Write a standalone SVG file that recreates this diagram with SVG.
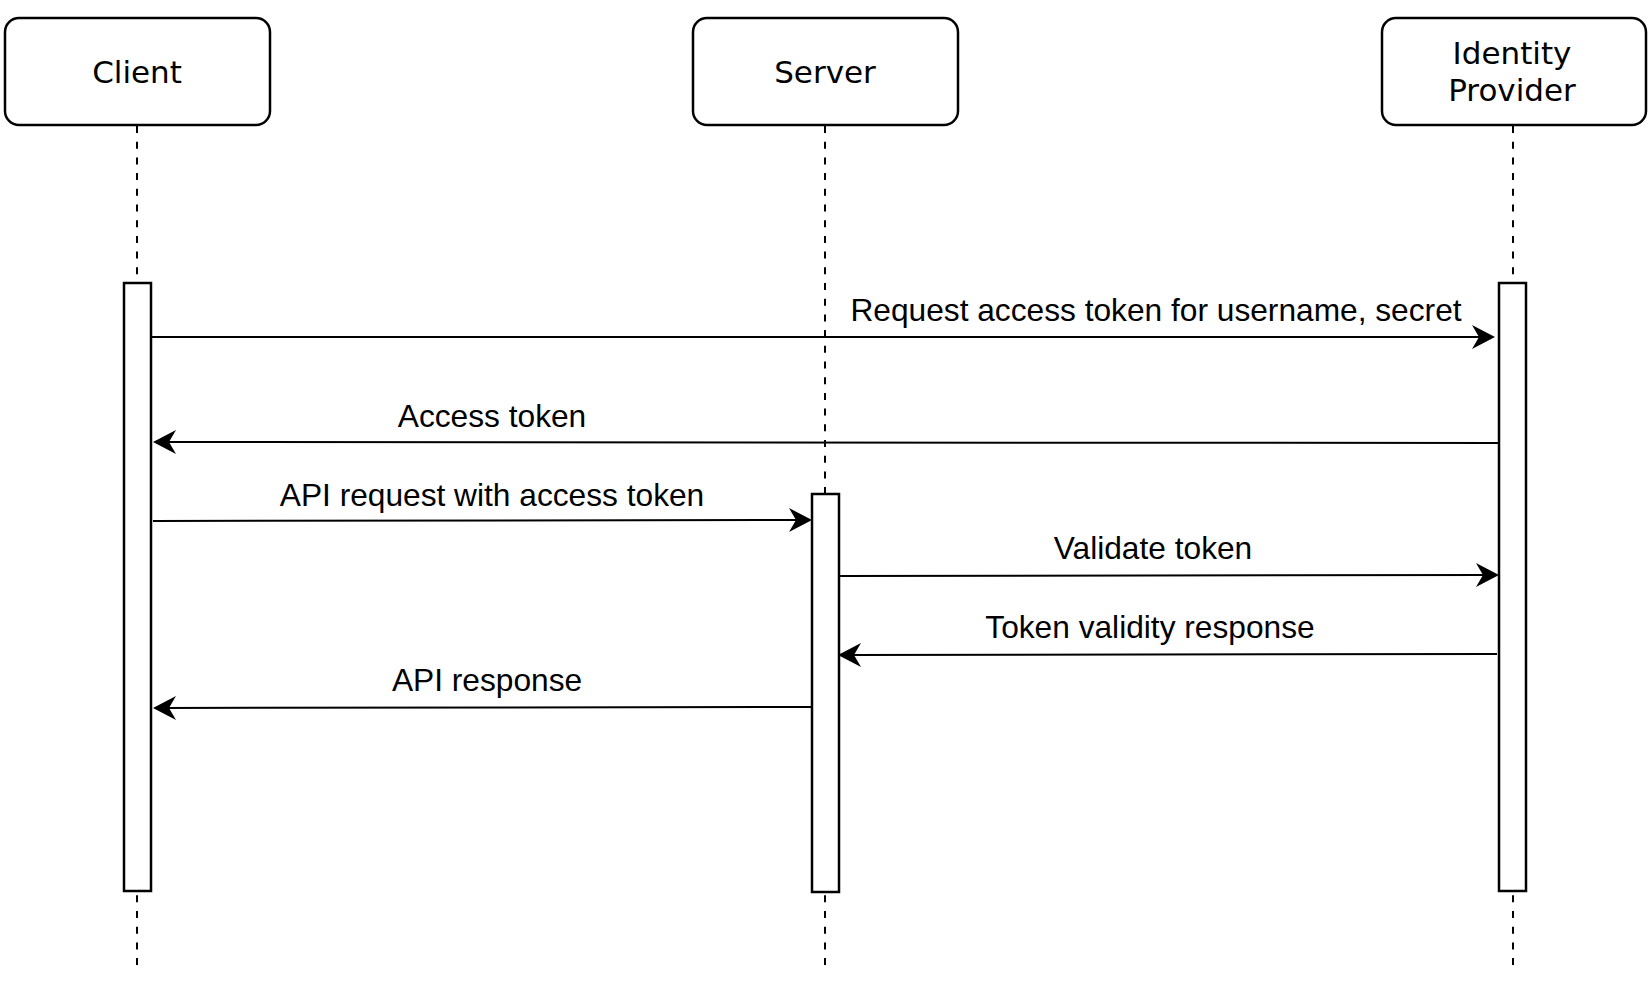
<svg xmlns="http://www.w3.org/2000/svg" width="1650" height="989" viewBox="0 0 1650 989">
<style>
.box{fill:#fff;stroke:#000;stroke-width:2.5}
.bar{fill:#fff;stroke:#000;stroke-width:2.5}
.life{stroke:#000;stroke-width:2;stroke-dasharray:7 8.7;fill:none}
.msg{stroke:#000;stroke-width:2;fill:none;marker-end:url(#ah)}
.title{font-family:"DejaVu Sans",sans-serif;font-size:31px;fill:#000;text-anchor:middle}
.lbl{font-family:"Liberation Sans",Arial,sans-serif;font-size:31.7px;fill:#000;text-anchor:middle}
</style>
<defs>
<marker id="ah" viewBox="-24 -13 26 26" refX="-10" refY="0" markerWidth="26" markerHeight="26" markerUnits="userSpaceOnUse" orient="auto">
<path d="M0,0 L-23,-12 L-16,0 L-23,12 Z" fill="#000"/>
</marker>
</defs>
<rect width="1650" height="989" fill="#fff"/>
<g id="lifelines">
<line class="life" x1="137" y1="126" x2="137" y2="972"/>
<line class="life" x1="825" y1="126" x2="825" y2="972"/>
<line class="life" x1="1513" y1="126" x2="1513" y2="972"/>
</g>
<g id="client">
<rect class="box" x="5" y="18" width="265" height="107" rx="14"/>
<text class="title" x="137" y="83">Client</text>
</g>
<g id="server">
<rect class="box" x="693" y="18" width="265" height="107" rx="14"/>
<text class="title" x="825" y="83">Server</text>
</g>
<g id="identity-provider">
<rect class="box" x="1382" y="18" width="264" height="107" rx="14"/>
<text class="title" x="1512" y="64">Identity</text>
<text class="title" x="1512" y="101">Provider</text>
</g>
<g id="client-activation"><rect class="bar" x="124" y="283" width="27" height="608"/></g>
<g id="server-activation"><rect class="bar" x="812" y="494" width="27" height="398"/></g>
<g id="idp-activation"><rect class="bar" x="1499" y="283" width="27" height="608"/></g>
<g id="connectors">
<line class="msg" x1="151" y1="337" x2="1485" y2="337"/>
<text class="lbl" x="1156" y="321">Request access token for username, secret</text>
<line class="msg" x1="1499" y1="443" x2="163" y2="442"/>
<text class="lbl" x="492" y="427">Access token</text>
<line class="msg" x1="153" y1="521" x2="802" y2="520"/>
<text class="lbl" x="492" y="506">API request with access token</text>
<line class="msg" x1="839" y1="576" x2="1489" y2="575"/>
<text class="lbl" x="1153" y="559">Validate token</text>
<line class="msg" x1="1497" y1="654" x2="848" y2="655"/>
<text class="lbl" x="1150" y="638">Token validity response</text>
<line class="msg" x1="811" y1="707" x2="163" y2="708"/>
<text class="lbl" x="487" y="691">API response</text>
</g>
</svg>
